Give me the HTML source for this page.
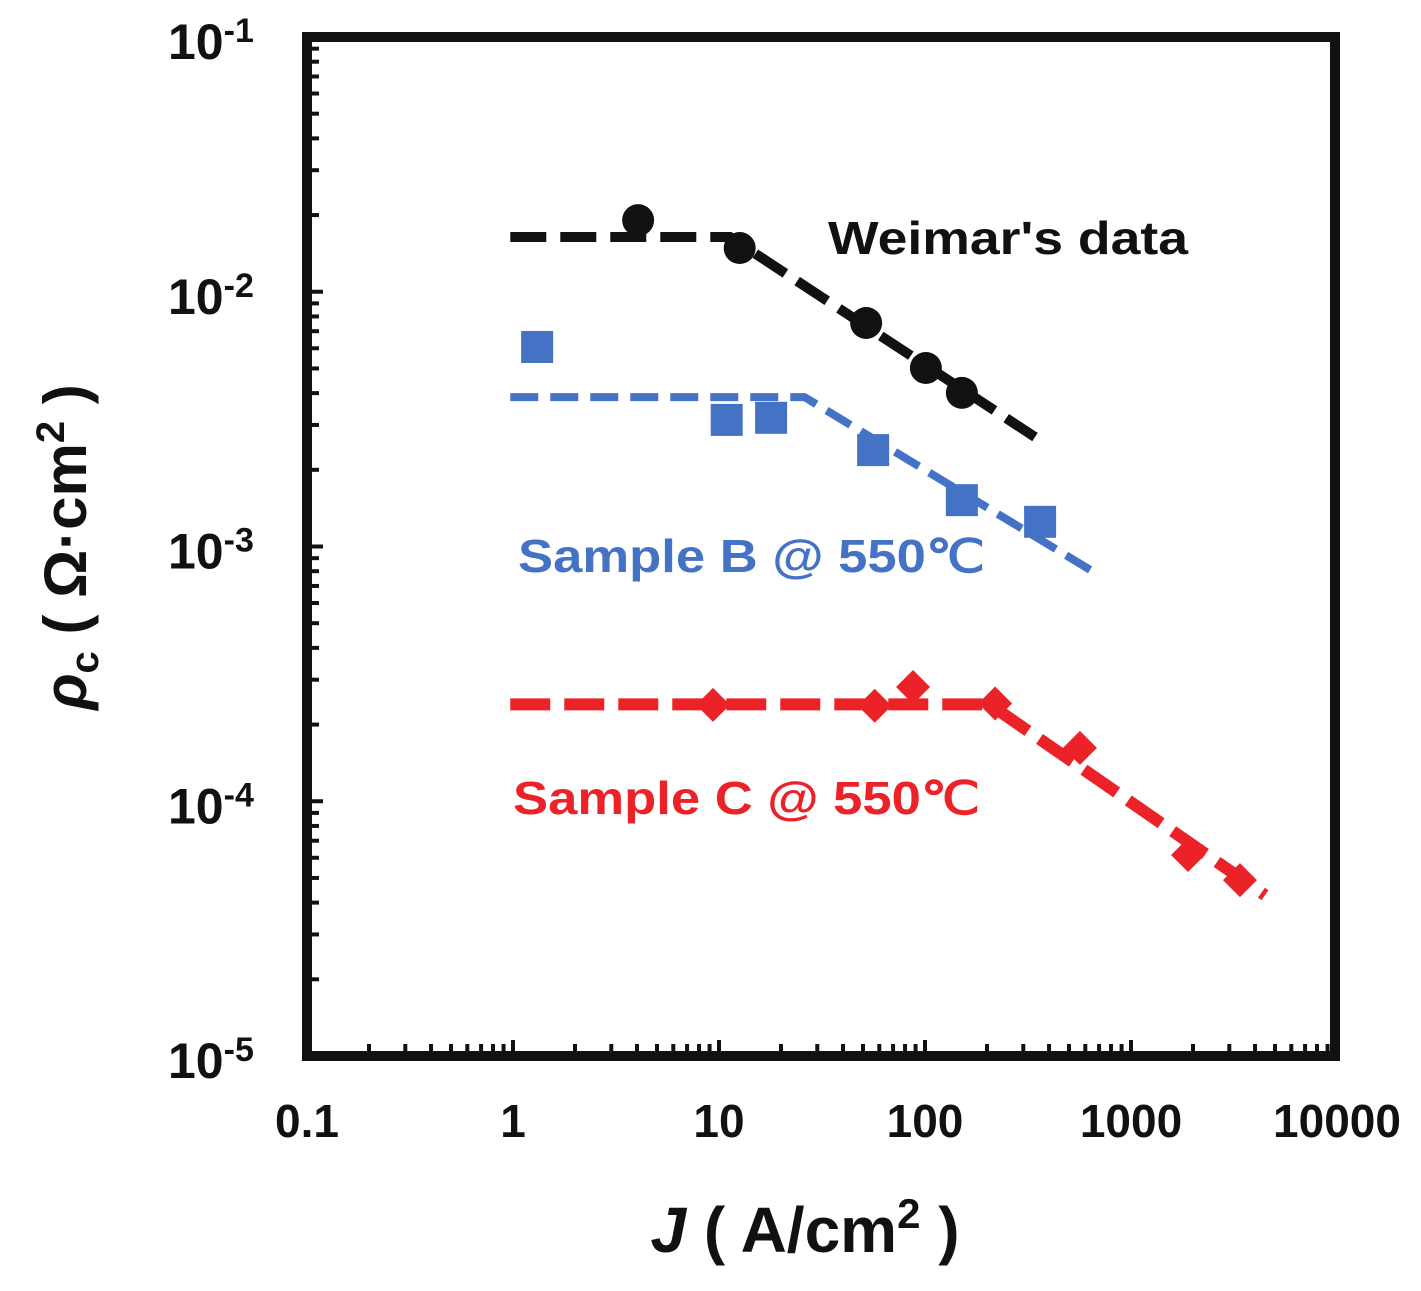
<!DOCTYPE html>
<html><head><meta charset="utf-8"><style>
html,body{margin:0;padding:0;background:#fff;}
svg{display:block;font-family:"Liberation Sans",sans-serif;font-weight:bold;}
</style></head><body>
<svg id="chart" width="1421" height="1291" viewBox="0 0 1421 1291" xmlns="http://www.w3.org/2000/svg">
<g id="ticks"></g>
<g id="lines"></g>
<g id="marks"></g>
<rect x="307" y="37" width="1028" height="1019" fill="none" stroke="#111" stroke-width="10"/>
<g id="labels"></g>
<text x="828" y="254" font-size="46" fill="#111" textLength="360" lengthAdjust="spacingAndGlyphs">Weimar's data</text>
<text x="518" y="572" font-size="46" fill="#4472C4" textLength="467" lengthAdjust="spacingAndGlyphs">Sample B @ 550℃</text>
<text x="513" y="814" font-size="46" fill="#EC2229" textLength="467" lengthAdjust="spacingAndGlyphs">Sample C @ 550℃</text>
<text x="805" y="1252" font-size="64" text-anchor="middle" fill="#111"><tspan font-style="italic">J</tspan> ( A/cm<tspan dy="-24" font-size="42">2</tspan><tspan dy="24">  )</tspan></text>
<text transform="translate(86,547) rotate(-90)" font-size="60" text-anchor="middle" fill="#111"><tspan font-style="italic">ρ</tspan><tspan dy="12" font-size="40">c</tspan><tspan dy="-12"> ( Ω·cm</tspan><tspan dy="-22" font-size="40">2</tspan><tspan dy="22"> )</tspan></text>
</svg>
<script>
const xTickValues=[0.1,1,10,100,1000,10000];
const xTickLabels=["0.1","1","10","100","1000","10000"];
const yTickExps=[-1,-2,-3,-4,-5];
const weimarJ=[4.05,12.6,51.8,101,151];
const weimarRho=[0.0191,0.01485,0.00754,0.00502,0.00401];
const weimarFitJ=[0.97,11.3,342];
const weimarFitRho=[0.0164,0.0164,0.00269];
const sampleBJ=[1.31,10.9,17.9,56,151,362];
const sampleBRho=[0.00607,0.00314,0.0032,0.00239,0.00152,0.00125];
const sampleBFitJ=[0.97,26,633];
const sampleBFitRho=[0.00386,0.00386,0.00081];
const sampleCJ=[9.35,57,87.5,219,565,1892,3380];
const sampleCRho=[0.000239,0.000237,0.000281,0.000242,0.000162,0.0000615,0.000049];
const sampleCFitJ=[0.97,206,4470];
const sampleCFitRho=[0.00024,0.00024,0.0000428];

const NS="http://www.w3.org/2000/svg";
const X=v=>307+206*(Math.log10(v)+1);
const Y=v=>37+254.75*(-1-Math.log10(v));
function mk(parent,tag,attrs){const e=document.createElementNS(NS,tag);for(const k in attrs)e.setAttribute(k,attrs[k]);document.getElementById(parent).appendChild(e);return e;}

for(let d=-5;d<-1;d++){for(let m=1;m<=9;m++){const v=m*Math.pow(10,d);const y=Y(v);
 const t=mk('ticks','line',{x1:307,x2:307+(m===1?16:12),y1:y,y2:y,stroke:'#111','stroke-width':4});
 
 }}
for(let d=-1;d<4;d++){for(let m=1;m<=9;m++){const v=m*Math.pow(10,d);const x=X(v);
 const t=mk('ticks','line',{x1:x,x2:x,y1:1056,y2:1056-(m===1?16:12),stroke:'#111','stroke-width':4});
 
 }}
xTickValues.forEach((v,i)=>{const t=mk('labels','text',{x:X(v),y:1137,'font-size':46,'text-anchor':'middle',fill:'#111'});t.textContent=xTickLabels[i];
 
 });
yTickExps.forEach(e=>{const t=mk('labels','text',{x:168,y:Y(Math.pow(10,e))+22,'font-size':50,fill:'#111'});
 
 
 t.innerHTML='10<tspan dy="-17" font-size="34">'+e+'</tspan>';});

function fit(J,R,color,dash,w,name){const p=J.map((j,i)=>X(j)+','+Y(R[i])).join(' ');
 const l=mk('lines','polyline',{points:p,fill:'none',stroke:color,'stroke-width':w,'stroke-dasharray':dash});
 
 }
fit(weimarFitJ,weimarFitRho,'#111','36 14',10,'weimar-fit-line');
fit(sampleBFitJ,sampleBFitRho,'#4472C4','28 12',8,'sample-b-fit-line');
fit(sampleCFitJ,sampleCFitRho,'#EC2229','40 14',12,'sample-c-fit-line');

weimarJ.forEach((j,i)=>{const c=mk('marks','circle',{cx:X(j),cy:Y(weimarRho[i]),r:16,fill:'#111'});
 
 });
sampleBJ.forEach((j,i)=>{const s=mk('marks','rect',{x:X(j)-16,y:Y(sampleBRho[i])-16,width:32,height:32,fill:'#4472C4'});
 
 });
sampleCJ.forEach((j,i)=>{const x=X(j),y=Y(sampleCRho[i]);const d=mk('marks','polygon',{points:`${x},${y-17} ${x+17},${y} ${x},${y+17} ${x-17},${y}`,fill:'#EC2229'});
 
 });
</script>
</body></html>
